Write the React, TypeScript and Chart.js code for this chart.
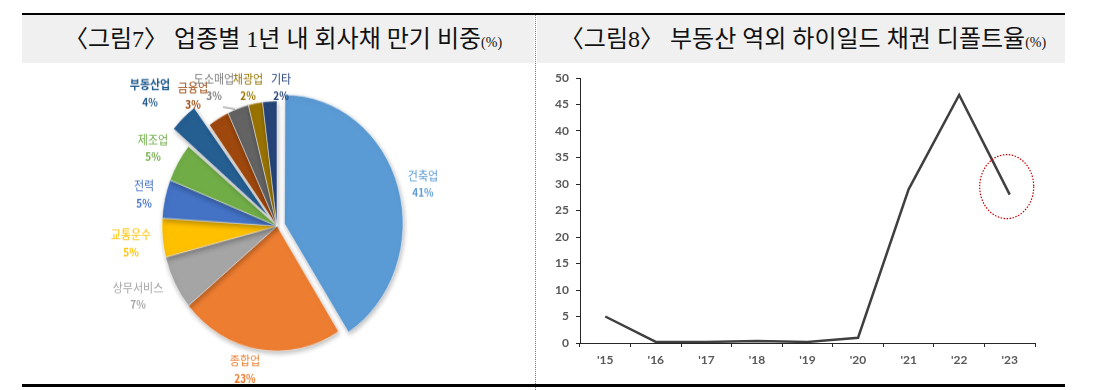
import React, { useEffect, useRef } from 'react';
import { Chart, registerables } from 'chart.js';

Chart.register(...registerables);

// ---------- Data: pie (그림7) ----------
const pieCategories = ['건축업', '종합업', '상무서비스', '교통운수', '전력', '제조업', '부동산업', '금융업', '도소매업', '채광업', '기타'];
const pieValues = [41, 23, 7, 5, 5, 5, 4, 3, 3, 2, 2];
const pieColors = ['#5B9BD5', '#ED7D31', '#A5A5A5', '#FFC000', '#4472C4', '#70AD47', '#255E91', '#9E480E', '#636363', '#997300', '#264478'];
const pieLabelColors = ['#5B9BD5', '#ED7D31', '#A5A5A5', '#FFC000', '#4472C4', '#70AD47', '#255E91', '#9E480E', '#7F7F7F', '#997300', '#264478'];
// Chart.js arc offset (internally scaled), tuned to the exploded distance in the reference
const pieOffsets = [31, 0, 0, 0, 0, 0, 50, 0, 0, 0, 0];
// label name centre, relative to pie centre (page pixels)
const pieLabelPos: [number, number][] = [
  [146, -50], [-32, 135], [-139, 62], [-146, 9], [-133, -40], [-124, -86],
  [-127, -141], [-84, -138], [-63, -147], [-29, -147], [4, -147],
];

// ---------- Data: line (그림8) ----------
const years = ["'15", "'16", "'17", "'18", "'19", "'20", "'21", "'22", "'23"];
const defaultRate = [5, 0.2, 0.2, 0.4, 0.2, 1.0, 29, 46.8, 28];
const yMin = 0;
const yMax = 50;
const yStep = 5;

const STRETCH = 1.087;
const KR = '"Noto Sans CJK KR", "Noto Sans", sans-serif';

function PieChart() {
  const ref = useRef<HTMLCanvasElement>(null);
  useEffect(() => {
    const canvas = ref.current!;
    const plugin = {
      id: 'pieDeco',
      beforeDatasetsDraw(chart: any) {
        const ctx = chart.ctx;
        ctx.save();
        ctx.shadowColor = 'rgba(0,0,0,0.28)';
        ctx.shadowBlur = 5;
        ctx.shadowOffsetX = 1;
        ctx.shadowOffsetY = 2;
      },
      afterDatasetsDraw(chart: any) {
        const ctx = chart.ctx;
        ctx.restore();
        const arc = chart.getDatasetMeta(0).data[0];
        const cx = arc.x;
        const cy = arc.y;
        ctx.save();
        ctx.textAlign = 'center';
        ctx.textBaseline = 'middle';
        pieCategories.forEach((name, i) => {
          const [dx, dy] = pieLabelPos[i];
          const x = cx + dx;
          const y = cy + dy / STRETCH;
          ctx.fillStyle = pieLabelColors[i];
          ctx.font = (i === 6 ? 'bold ' : '') + '11px ' + KR;
          ctx.fillText(name, x, y);
          ctx.font = 'bold 10px ' + KR;
          ctx.fillText(pieValues[i] + '%', x, y + 17 / STRETCH);
        });
        // leader line for 도소매업
        ctx.strokeStyle = '#8c8c8c';
        ctx.lineWidth = 1;
        ctx.beginPath();
        ctx.moveTo(cx - 54, cy - 119 / STRETCH);
        ctx.lineTo(cx - 42, cy - 117 / STRETCH);
        ctx.stroke();
        ctx.restore();
      },
    };
    const chart = new Chart(canvas, {
      type: 'pie',
      data: {
        labels: pieCategories,
        datasets: [{
          data: pieValues,
          backgroundColor: pieColors,
          borderColor: 'rgba(255,255,255,0.6)',
          borderWidth: 0.8,
          offset: pieOffsets,
          radius: 115,
        } as any],
      },
      options: {
        animation: false,
        responsive: false,
        devicePixelRatio: 1,
        layout: { padding: { left: 0, right: 2, top: 6, bottom: 0 } },
        plugins: { legend: { display: false }, tooltip: { enabled: false } },
      },
      plugins: [plugin],
    });
    return () => chart.destroy();
  }, []);
  return <canvas ref={ref} width={512} height={294} style={{ display: 'block' }} />;
}

function LineChart() {
  const ref = useRef<HTMLCanvasElement>(null);
  useEffect(() => {
    const canvas = ref.current!;
    const plugin = {
      id: 'ellipseMark',
      afterDatasetsDraw(chart: any) {
        const ctx = chart.ctx;
        const meta = chart.getDatasetMeta(0);
        const p = meta.data[meta.data.length - 1];
        ctx.save();
        ctx.strokeStyle = '#C00000';
        ctx.lineWidth = 1.2;
        ctx.setLineDash([1.5, 1.5]);
        ctx.beginPath();
        ctx.ellipse(p.x - 3, p.y - 8, 27, 32, 0, 0, Math.PI * 2);
        ctx.stroke();
        ctx.restore();
      },
    };
    const tickFont = { family: 'Lato, "Open Sans", sans-serif', weight: 'bold' as const, size: 12 };
    const chart = new Chart(canvas, {
      type: 'line',
      data: {
        labels: years,
        datasets: [{
          data: defaultRate,
          borderColor: '#404040',
          borderWidth: 2.5,
          pointRadius: 0,
          tension: 0,
          fill: false,
        }],
      },
      options: {
        animation: false,
        responsive: false,
        devicePixelRatio: 1,
        layout: { padding: { left: 0, right: 30, top: 15, bottom: 0 } },
        plugins: { legend: { display: false }, tooltip: { enabled: false } },
        scales: {
          x: {
            type: 'category',
            offset: true,
            grid: { offset: true, drawOnChartArea: false, drawTicks: true, tickLength: 4, color: '#262626' },
            border: { display: true, color: '#262626', width: 1 },
            ticks: { color: '#595959', font: tickFont, padding: 6, maxRotation: 0, autoSkip: false },
            afterFit: (s: any) => { s.height = 42; },
          },
          y: {
            min: yMin,
            max: yMax,
            grid: { drawOnChartArea: false, drawTicks: true, tickLength: 4, color: '#262626' },
            border: { display: true, color: '#262626', width: 1 },
            ticks: { stepSize: yStep, color: '#595959', font: tickFont, padding: 7 },
            afterFit: (s: any) => { s.width = 42; },
          },
        },
      },
      plugins: [plugin],
    });
    return () => chart.destroy();
  }, []);
  return <canvas ref={ref} width={527} height={322} style={{ display: 'block' }} />;
}

const titleStyle: React.CSSProperties = {
  position: 'absolute',
  top: 15,
  height: 48,
  lineHeight: '48px',
  textAlign: 'center',
  fontFamily: '"Liberation Serif", ' + KR,
  fontSize: 24,
  color: '#111',
  whiteSpace: 'nowrap',
  background: '#F0F0F0',
  boxSizing: 'border-box',
};

export default function App() {
  return (
    <div style={{ position: 'fixed', left: 0, top: 0, width: 1109, height: 390, background: '#fff', overflow: 'hidden' }}>
      {/* top rule */}
      <div style={{ position: 'absolute', left: 22, top: 13, width: 1043, height: 2, background: '#000' }} />
      {/* headers */}
      <div style={{ ...titleStyle, left: 22, width: 512, paddingLeft: 10 }}>
        〈그림7〉 업종별 1년 내 회사채 만기 비중<span style={{ fontSize: 14 }}>(%)</span>
      </div>
      <div style={{ ...titleStyle, left: 537, width: 528, paddingLeft: 4 }}>
        〈그림8〉 부동산 역외 하이일드 채권 디폴트율<span style={{ fontSize: 14 }}>(%)</span>
      </div>
      {/* divider */}
      <div style={{ position: 'absolute', left: 535, top: 15, width: 0, height: 375, borderLeft: '1px dotted #777' }} />
      {/* pie */}
      <div style={{ position: 'absolute', left: 22, top: 63, transform: `scaleY(${STRETCH})`, transformOrigin: 'top left' }}>
        <PieChart />
      </div>
      {/* line */}
      <div style={{ position: 'absolute', left: 538, top: 63 }}>
        <LineChart />
      </div>
      {/* bottom rule */}
      <div style={{ position: 'absolute', left: 22, top: 384, width: 1043, height: 3, background: '#000' }} />
    </div>
  );
}
